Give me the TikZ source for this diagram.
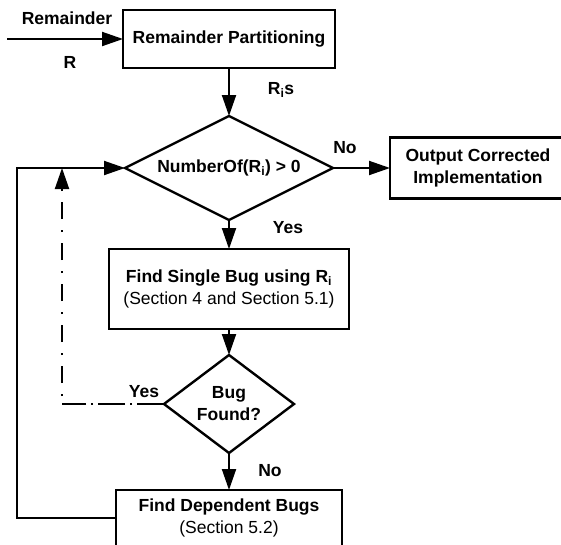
\documentclass[tikz,border=0pt]{standalone}
\usepackage{fontspec}
\setmainfont{Liberation Sans}
\usetikzlibrary{arrows.meta,shapes.geometric}
\begin{document}
\begin{tikzpicture}[x=1pt,y=-1pt,
  font=\fontsize{17.5}{22}\selectfont,
  every node/.style={inner sep=0pt, outer sep=0pt},
  procbox/.style={draw, line width=2.4pt, align=center},
  decision/.style={draw, shape=diamond, line width=2.4pt, align=center},
  flow/.style={line width=2pt, -{Triangle[length=21pt,width=14pt]}},
  loopback/.style={line width=2pt},
  lbl/.style={font=\fontsize{17.5}{22}\selectfont\bfseries},
]
\useasboundingbox (0,0) rectangle (561,544);
\clip (0,0) rectangle (561,544);

% process boxes and decisions
\node[procbox, minimum width=212pt, minimum height=58pt] (part) at (229,39)
  {\bfseries Remainder Partitioning};
\node[decision, aspect=2, minimum width=208pt, minimum height=104pt] (cnt) at (229,168)
  {\bfseries NumberOf(R\textsubscript{i}) > 0};
\node[procbox, minimum width=176pt, minimum height=61pt] (out) at (478,168)
  {\bfseries Output Corrected\\\bfseries Implementation};
\node[procbox, minimum width=240pt, minimum height=80pt] (single) at (229,289)
  {\bfseries Find Single Bug using R\textsubscript{i}\\(Section 4 and Section 5.1)};
\node[decision, aspect=1.33, minimum width=130pt, minimum height=98pt] (found) at (229,404)
  {\bfseries Bug\\\bfseries Found?};
\node[procbox, minimum width=226pt, minimum height=56pt] (dep) at (229,518)
  {\bfseries Find Dependent Bugs\\(Section 5.2)};

% free ends and routing columns
\coordinate (in) at (7,39);
\coordinate (loopx) at (17,0);
\coordinate (dashx) at (62,0);

% main flow
\draw[flow] (in) -- (part.west);
\draw[flow] (part.south) -- (cnt.north);
\draw[flow] (cnt.east) -- (out.west);
\draw[flow] (cnt.south) -- (single.north);
\draw[flow] (single.south) -- (found.north);
\draw[flow] (found.south) -- (dep.north);

% loop back from dependent bugs
\draw[flow] (dep.west) -- (dep.west -| loopx) -- (cnt.west -| loopx) -- (cnt.west);

% dash-dotted return when a bug is found
\draw[loopback, dash pattern=on 27pt off 5pt on 2pt off 5pt]
  (found.west) -- (found.west -| dashx);
\draw[loopback, dash pattern=on 17pt off 11pt on 2pt off 11pt, dash phase=20pt,
      -{Triangle[length=21pt,width=14pt]}]
  (found.west -| dashx) -- (cnt.west -| dashx);

% edge labels
\node[lbl] (lrem) at (67,18) {Remainder};
\node[lbl] (lr) at (70,62) {R};
\node[lbl] (lris) at (281,90) {R\textsubscript{i}s};
\node[lbl] (lno1) at (345,148) {No};
\node[lbl] (lyes1) at (288,228) {Yes};
\node[lbl] (lyes2) at (144,392) {Yes};
\node[lbl] (lno2) at (270,471) {No};
\end{tikzpicture}
\end{document}
